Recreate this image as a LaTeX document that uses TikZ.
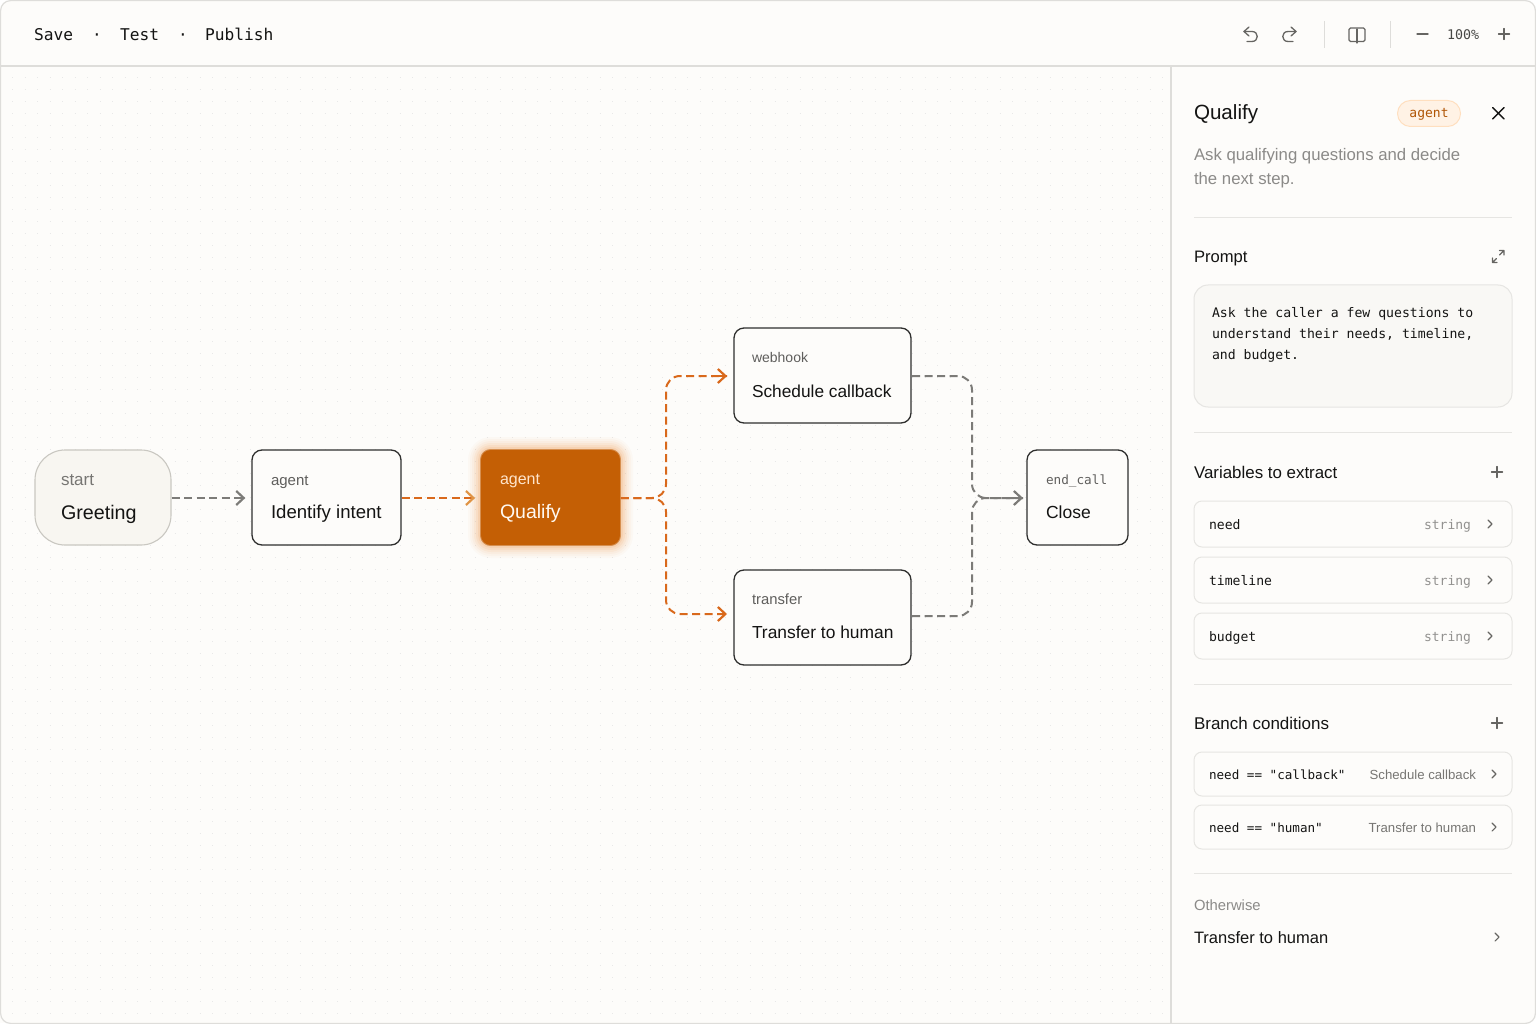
\documentclass[tikz,border=0pt]{standalone}
\usepackage{fontspec}
\setmainfont{Liberation Sans}
\newfontfamily\monof{DejaVu Sans Mono}
\usetikzlibrary{arrows.meta,calc}
\definecolor{bgc}{HTML}{FDFCFA}
\definecolor{framec}{HTML}{DEDDDA}
\definecolor{linec}{HTML}{E6E5E2}
\definecolor{darkb}{HTML}{2F2F2E}
\definecolor{inkc}{HTML}{141413}
\definecolor{greyt}{HTML}{777673}
\definecolor{conng}{HTML}{7C7B78}
\definecolor{orng}{HTML}{C45F05}
\definecolor{orngl}{HTML}{D9691C}
\definecolor{orngt}{HTML}{E09445}
\definecolor{icon}{HTML}{666562}
\definecolor{softfill}{HTML}{F8F6F1}
\definecolor{softline}{HTML}{C9C7C1}
\definecolor{promptfill}{HTML}{F9F8F5}
\definecolor{glowc}{HTML}{EE8A30}
\newcommand{\fs}[1]{\fontsize{#1}{#1}\selectfont}
\tikzset{
  x=1pt,y=-1pt,
  tx/.style={anchor=base west,inner sep=0pt,outer sep=0pt,text=inkc},
  txr/.style={anchor=base east,inner sep=0pt,outer sep=0pt,text=greyt},
  box/.style={draw=darkb,line width=1.3pt,fill=bgc,rounded corners=10pt,inner sep=0pt,minimum height=95pt},
  rowbox/.style={draw=linec,line width=1pt,fill=bgc,rounded corners=8pt,inner sep=0pt,minimum width=318pt},
  conn/.style={line width=2pt,dash pattern=on 8pt off 4.5pt,rounded corners=14pt},
  tip/.style={line width=2pt,-{Straight Barb[length=7.5pt,width=14pt,line width=2.2pt]}},
  ic/.style={draw=icon,line width=1.3pt,line cap=round,line join=round},
  chev/.style={draw=icon,line width=1.1pt,line cap=round,line join=round},
  div/.style={draw=linec,line width=1pt},
}
\newcommand{\chevron}[2]{\draw[chev] (#1-2,#2-4) -- (#1+2,#2) -- (#1-2,#2+4);}
\newcommand{\plusicon}[2]{\draw[ic] (#1-5.5,#2) -- (#1+5.5,#2) (#1,#2-5.5) -- (#1,#2+5.5);}
\begin{document}
\begin{tikzpicture}
\useasboundingbox (0,0) rectangle (1536,1024);
\fill[white] (0,0) rectangle (1536,1024);
% frame
\fill[bgc,rounded corners=10pt] (0.5,0.5) rectangle (1535.5,1023.5);
% dot grid
\foreach \j in {0,...,78}{
  \draw[black!9,line width=1.1pt,dash pattern=on 1.1pt off 11.4pt] (12,77.3+12*\j) -- (1170,77.3+12*\j);
}
\fill[bgc] (0,1016) rectangle (1171,1023);
\draw[framec,line width=1.2pt,rounded corners=10pt] (0.6,0.6) rectangle (1535.4,1023.4);
\draw[framec,line width=1.2pt] (0.6,66) -- (1535.4,66);
\draw[framec,line width=1.2pt] (1171,66) -- (1171,1023.4);
% toolbar
\node[tx,font=\monof\fs{16.2}] (tSave) at (34,41) {Save};
\node[tx,font=\monof\fs{16}] (tD1) at (92,41) {·};
\node[tx,font=\monof\fs{16.2}] (tTest) at (120,41) {Test};
\node[tx,font=\monof\fs{16}] (tD2) at (178,41) {·};
\node[tx,font=\monof\fs{16.2}] (tPub) at (205,41) {Publish};
\draw[ic] (1249,27) -- (1244,31.5) -- (1249,36);
\draw[ic] (1244,31.5) -- (1252,31.5) .. controls (1259,31.5) and (1259,41.5) .. (1252,41.5) -- (1247,41.5);
\draw[ic] (1291,27) -- (1296,31.5) -- (1291,36);
\draw[ic] (1296,31.5) -- (1288,31.5) .. controls (1281,31.5) and (1281,41.5) .. (1288,41.5) -- (1293,41.5);
\draw[framec,line width=1pt] (1324,21) -- (1324,48);
\draw[framec,line width=1pt] (1390,21) -- (1390,48);
\draw[ic,rounded corners=1.5pt] (1349,28) rectangle (1365,41.5);
\draw[ic] (1357,29) -- (1357,43);
\draw[ic] (1417,34) -- (1428,34);
\node[tx,text=icon!70!black,font=\monof\fs{13.3}] (tZoom) at (1447,40) {100\%};
\plusicon{1504}{34}
% nodes
\node[draw=softline,line width=1.1pt,fill=softfill,rounded corners=30pt,minimum width=136pt,minimum height=95pt,inner sep=0pt] (greet) at (103,497.5) {};
\node[box,minimum width=149pt] (ident) at (326.5,497.5) {};
\foreach \g/\o in {13/0.03,11/0.04,9/0.05,7/0.07,5/0.09,3/0.12,1/0.14}{
  \fill[glowc,opacity=\o,rounded corners=10pt+\g pt] (481-\g,450-\g) rectangle (620+\g,545+\g);
}
\node[draw=orng!70!white,line width=0.8pt,fill=orng,rounded corners=10pt,minimum width=140pt,minimum height=96pt,inner sep=0pt] (qual) at (550.5,497.5) {};
\node[box,minimum width=177pt] (web) at (822.5,375.5) {};
\node[box,minimum width=177pt] (trans) at (822.5,617.5) {};
\node[box,minimum width=101pt] (close) at (1077.5,497.5) {};
% node labels
\node[tx,text=greyt,font=\fs{17}] (l1a) at (61,485) {start};
\node[tx,font=\fs{19.7}] (l1b) at (61,519) {Greeting};
\node[tx,text=greyt!80!black,font=\fs{15}] (l2a) at (271,485) {agent};
\node[tx,font=\fs{18.6}] (l2b) at (271,518) {Identify intent};
\node[tx,text=orange!20!white,font=\fs{16}] (l3a) at (500,484.5) {agent};
\node[tx,text=white!95!orange,font=\fs{19.5}] (l3b) at (500,518) {Qualify};
\node[tx,text=greyt!80!black,font=\fs{14}] (l4a) at (752,362) {webhook};
\node[tx,font=\fs{17.3}] (l4b) at (752,397) {Schedule callback};
\node[tx,text=greyt!80!black,font=\fs{14.8}] (l5a) at (752,604) {transfer};
\node[tx,font=\fs{17.4}] (l5b) at (752,638) {Transfer to human};
\node[tx,text=greyt!80!black,font=\monof\fs{12.7}] (l6a) at (1046,484) {end\_call};
\node[tx,font=\fs{17.5}] (l6b) at (1046,518) {Close};
% junctions
\coordinate (qfork) at (666,498);
\coordinate (mfork) at (972,498);
\coordinate (wIn) at (727,376);
\coordinate (tIn) at (727,614);
\coordinate (wOut) at (912,376);
\coordinate (tOut) at (912,616);
\coordinate (cIn) at (1023,498);
% connectors
\draw[conng,conn,tip] ([yshift=-0.5pt]greet.east) -- ($(ident.west)+(-6,0.5)$);
\draw[orngl,conn,tip,-{Straight Barb[length=7.5pt,width=14pt,line width=2.2pt,color=orngt]}] ([yshift=-0.5pt]ident.east) -- ($(qual.west)+(-5,0.5)$);
\draw[orngl,conn] ([yshift=-0.5pt]qual.east) -- (qfork) -- (qfork |- wIn) -- (wIn);
\draw[orngl,tip] (718,376) -- (wIn);
\draw[orngl,conn] ([yshift=-0.5pt]qual.east) -- (qfork) -- (qfork |- tIn) -- (tIn);
\draw[orngl,tip] (718,614) -- (tIn);
\draw[conng,conn] (wOut) -- (wOut -| mfork) -- (mfork) -- (cIn);
\draw[conng,conn] (tOut) -- (tOut -| mfork) -- (mfork) -- (cIn);
\draw[conng,tip] (1014,498) -- (cIn);
% panel head
\node[tx,font=\fs{20.6}] (pT) at (1194,120) {Qualify};
\node[draw=orange!25!white,fill=orange!10!white,line width=1pt,rounded corners=13pt,minimum width=63pt,minimum height=26pt,inner sep=0pt] (pill) at (1429,113.5) {};
\node[inner sep=0pt,text=orng!90!black,font=\monof\fs{13}] (pillT) at (1429,114.5) {agent};
\draw[draw=inkc,line width=1.4pt,line cap=round] (1492.5,107.5) -- (1504,119) (1504,107.5) -- (1492.5,119);
\node[tx,text=greyt!85!white,font=\fs{16.75}] (d1) at (1194,161) {Ask qualifying questions and decide};
\node[tx,text=greyt!85!white,font=\fs{16.75}] (d2) at (1194,185) {the next step.};
\draw[div] (1194,217.5) -- (1512,217.5);
% prompt
\node[tx,font=\fs{16.6}] (hP) at (1194,262) {Prompt};
\draw[ic,line width=1.1pt] (1492.5,262.5) -- (1496.5,258.5) (1499.5,255) -- (1504,250.5) (1499.5,250.5) -- (1504,250.5) -- (1504,255) (1492.5,258) -- (1492.5,262.5) -- (1497,262.5);
\node[rowbox,fill=promptfill,rounded corners=14pt,minimum height=122pt] (prm) at (1353,346) {};
\node[tx,font=\monof\fs{13.15}] (p1) at (1212,317) {Ask the caller a few questions to};
\node[tx,font=\monof\fs{13.15}] (p2) at (1212,338) {understand their needs, timeline,};
\node[tx,font=\monof\fs{13.15}] (p3) at (1212,359) {and budget.};
\draw[div] (1194,432.5) -- (1512,432.5);
% variables
\node[tx,font=\fs{16.9}] (hV) at (1194,478) {Variables to extract};
\plusicon{1497}{472}
\foreach \n/\y/\t in {a/524/need,b/580/timeline,c/636/budget}{
  \node[rowbox,minimum height=46pt] (v\n) at (1353,\y) {};
  \node[tx,font=\monof\fs{13.1}] (v\n t) at (1209,\y+5) {\t};
  \node[txr,font=\monof\fs{13},text=greyt!80!white] (v\n s) at (1471,\y+5) {string};
  \chevron{1490}{\y}
}
\draw[div] (1194,684) -- (1512,684);
% branches
\node[tx,font=\fs{17}] (hB) at (1194,729) {Branch conditions};
\plusicon{1497}{723}
\node[rowbox,minimum height=44pt] (ba) at (1353,774) {};
\node[tx,font=\monof\fs{12.6}] (bat) at (1209,779) {need == "callback"};
\node[txr,font=\fs{13.2}] (bas) at (1476,779) {Schedule callback};
\chevron{1494}{774}
\node[rowbox,minimum height=44pt] (bb) at (1353,827) {};
\node[tx,font=\monof\fs{12.6}] (bbt) at (1209,832) {need == "human"};
\node[txr,font=\fs{13.2}] (bbs) at (1476,832) {Transfer to human};
\chevron{1494}{827}
\draw[div] (1194,873) -- (1512,873);
\node[tx,text=greyt!85!white,font=\fs{14.8}] (oT) at (1194,910) {Otherwise};
\node[tx,font=\fs{16.5}] (oV) at (1194,943) {Transfer to human};
\chevron{1497}{937}
\end{tikzpicture}
\end{document}
